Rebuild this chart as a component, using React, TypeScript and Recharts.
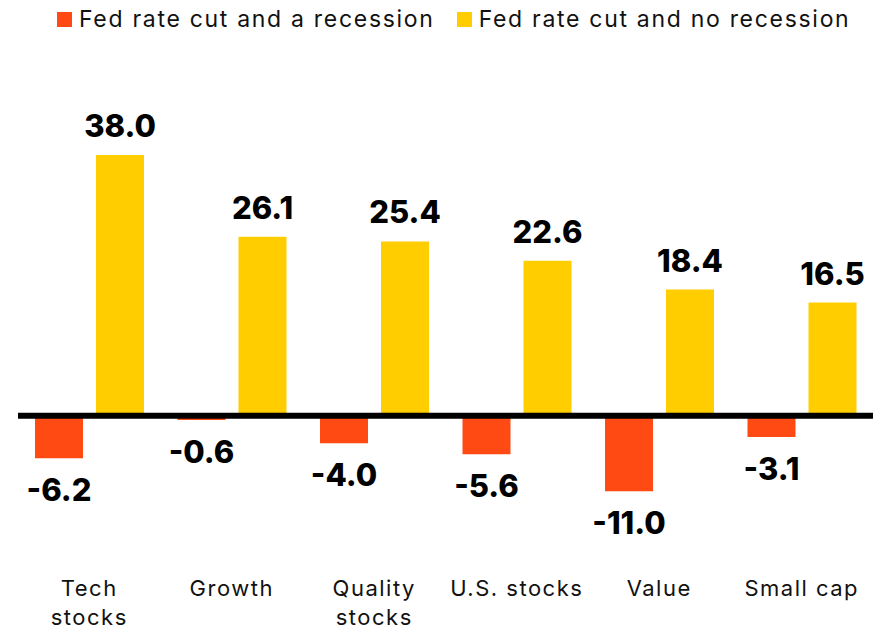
import { Bar, BarChart, LabelList, ReferenceLine, XAxis, YAxis } from "recharts";

// Returns in % by scenario
const categories = ["Tech\nstocks", "Growth", "Quality\nstocks", "U.S. stocks", "Value", "Small cap"];
const recession = [-6.2, -0.6, -4.0, -5.6, -11.0, -3.1];
const noRecession = [38.0, 26.1, 25.4, 22.6, 18.4, 16.5];

const seriesNames = ["Fed rate cut and a recession", "Fed rate cut and no recession"];
const ORANGE = "#FF4A14";
const YELLOW = "#FFCD00";
const FONT = "Inter, 'Noto Sans', sans-serif";

const data = categories.map((name, i) => ({
    name,
    recession: recession[i],
    noRecession: noRecession[i],
}));

const CategoryTick = ({ x, y, payload }: any) => {
    const lines = String(payload.value).split("\n");
    return (
        <text x={x} y={y} textAnchor="middle" fontFamily={FONT} fontSize={22} letterSpacing={1.5} fill="#111">
            {lines.map((line, i) => (
                <tspan key={i} x={x} dy={i === 0 ? 35 : 29}>
                    {line}
                </tspan>
            ))}
        </text>
    );
};

const ValueLabel = (props: any) => {
    const { x, y, width, height, value } = props;
    const top = Math.min(y, y + height);
    const bottom = Math.max(y, y + height);
    const cx = x + width / 2;
    const ty = value >= 0 ? top - 18 : bottom + 43;
    return (
        <text x={cx} y={ty} textAnchor="middle" fontFamily={FONT} fontSize={31} fontWeight={800} fill="#000">
            {Number(value).toFixed(1)}
        </text>
    );
};

const ChartLegend = () => (
    <div
        style={{
            position: "absolute",
            top: 4,
            left: 57,
            display: "flex",
            fontFamily: FONT,
            fontSize: 23,
            letterSpacing: 1.7,
            lineHeight: "30px",
            color: "#111",
        }}
    >
        {seriesNames.map((s, i) => (
            <div key={s} style={{ display: "flex", alignItems: "center", marginRight: 22 }}>
                <span
                    style={{
                        width: 15,
                        height: 15,
                        background: i === 0 ? ORANGE : YELLOW,
                        display: "inline-block",
                        marginRight: 7,
                    }}
                />
                <span>{s}</span>
            </div>
        ))}
    </div>
);

export default function App() {
    return (
        <div style={{ position: "relative", width: 884, height: 632, background: "#fff" }}>
            <style>{`body{margin:0}`}</style>
            <ChartLegend />
            <BarChart
                width={884}
                height={632}
                data={data}
                margin={{ top: 107, right: 11, left: 18, bottom: 0 }}
                barSize={48}
                barGap={13}
            >
                <XAxis
                    dataKey="name"
                    axisLine={false}
                    tickLine={false}
                    interval={0}
                    height={79}
                    tick={<CategoryTick />}
                />
                <YAxis hide domain={[-20, 45]} />
                <Bar dataKey="recession" name={seriesNames[0]} fill={ORANGE} isAnimationActive={false}>
                    <LabelList dataKey="recession" content={<ValueLabel />} />
                </Bar>
                <Bar dataKey="noRecession" name={seriesNames[1]} fill={YELLOW} isAnimationActive={false}>
                    <LabelList dataKey="noRecession" content={<ValueLabel />} />
                </Bar>
                <ReferenceLine y={0} stroke="#000" strokeWidth={6} />
            </BarChart>
        </div>
    );
}
